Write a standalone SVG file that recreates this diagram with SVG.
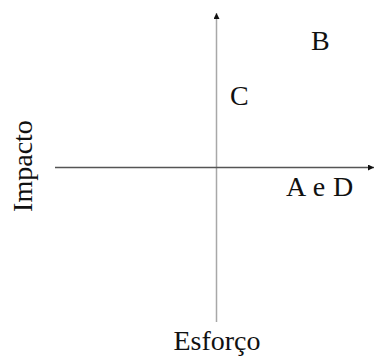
<svg xmlns="http://www.w3.org/2000/svg" width="374" height="356" viewBox="0 0 374 356">
<style>
text{font-family:"Liberation Serif","Times New Roman",serif;font-size:28px;fill:#111}
</style>
<defs>
<marker id="ah" viewBox="0 0 10 10" refX="10" refY="5" markerWidth="4" markerHeight="4" orient="auto" markerUnits="strokeWidth">
<path d="M0,0 L10,5 L0,10 Z" fill="#111"/>
</marker>
</defs>
<rect width="374" height="356" fill="#fff"/>
<g id="connectors">
<line x1="216.5" y1="322" x2="216.5" y2="13" stroke="#a8a8a8" stroke-width="1.5" marker-end="url(#ah)"/>
<line x1="55" y1="167.5" x2="374" y2="167.5" stroke="#555" stroke-width="1.5" marker-end="url(#ah)"/>
</g>
<g id="B"><text x="311" y="50">B</text></g>
<g id="C"><text x="230" y="105">C</text></g>
<g id="AeD"><text x="286" y="196" word-spacing="1">A e D</text></g>
<g id="Impacto"><text transform="translate(32,166) rotate(-90)" text-anchor="middle">Impacto</text></g>
<g id="Esforco"><text x="217" y="350" text-anchor="middle">Esforço</text></g>
</svg>
